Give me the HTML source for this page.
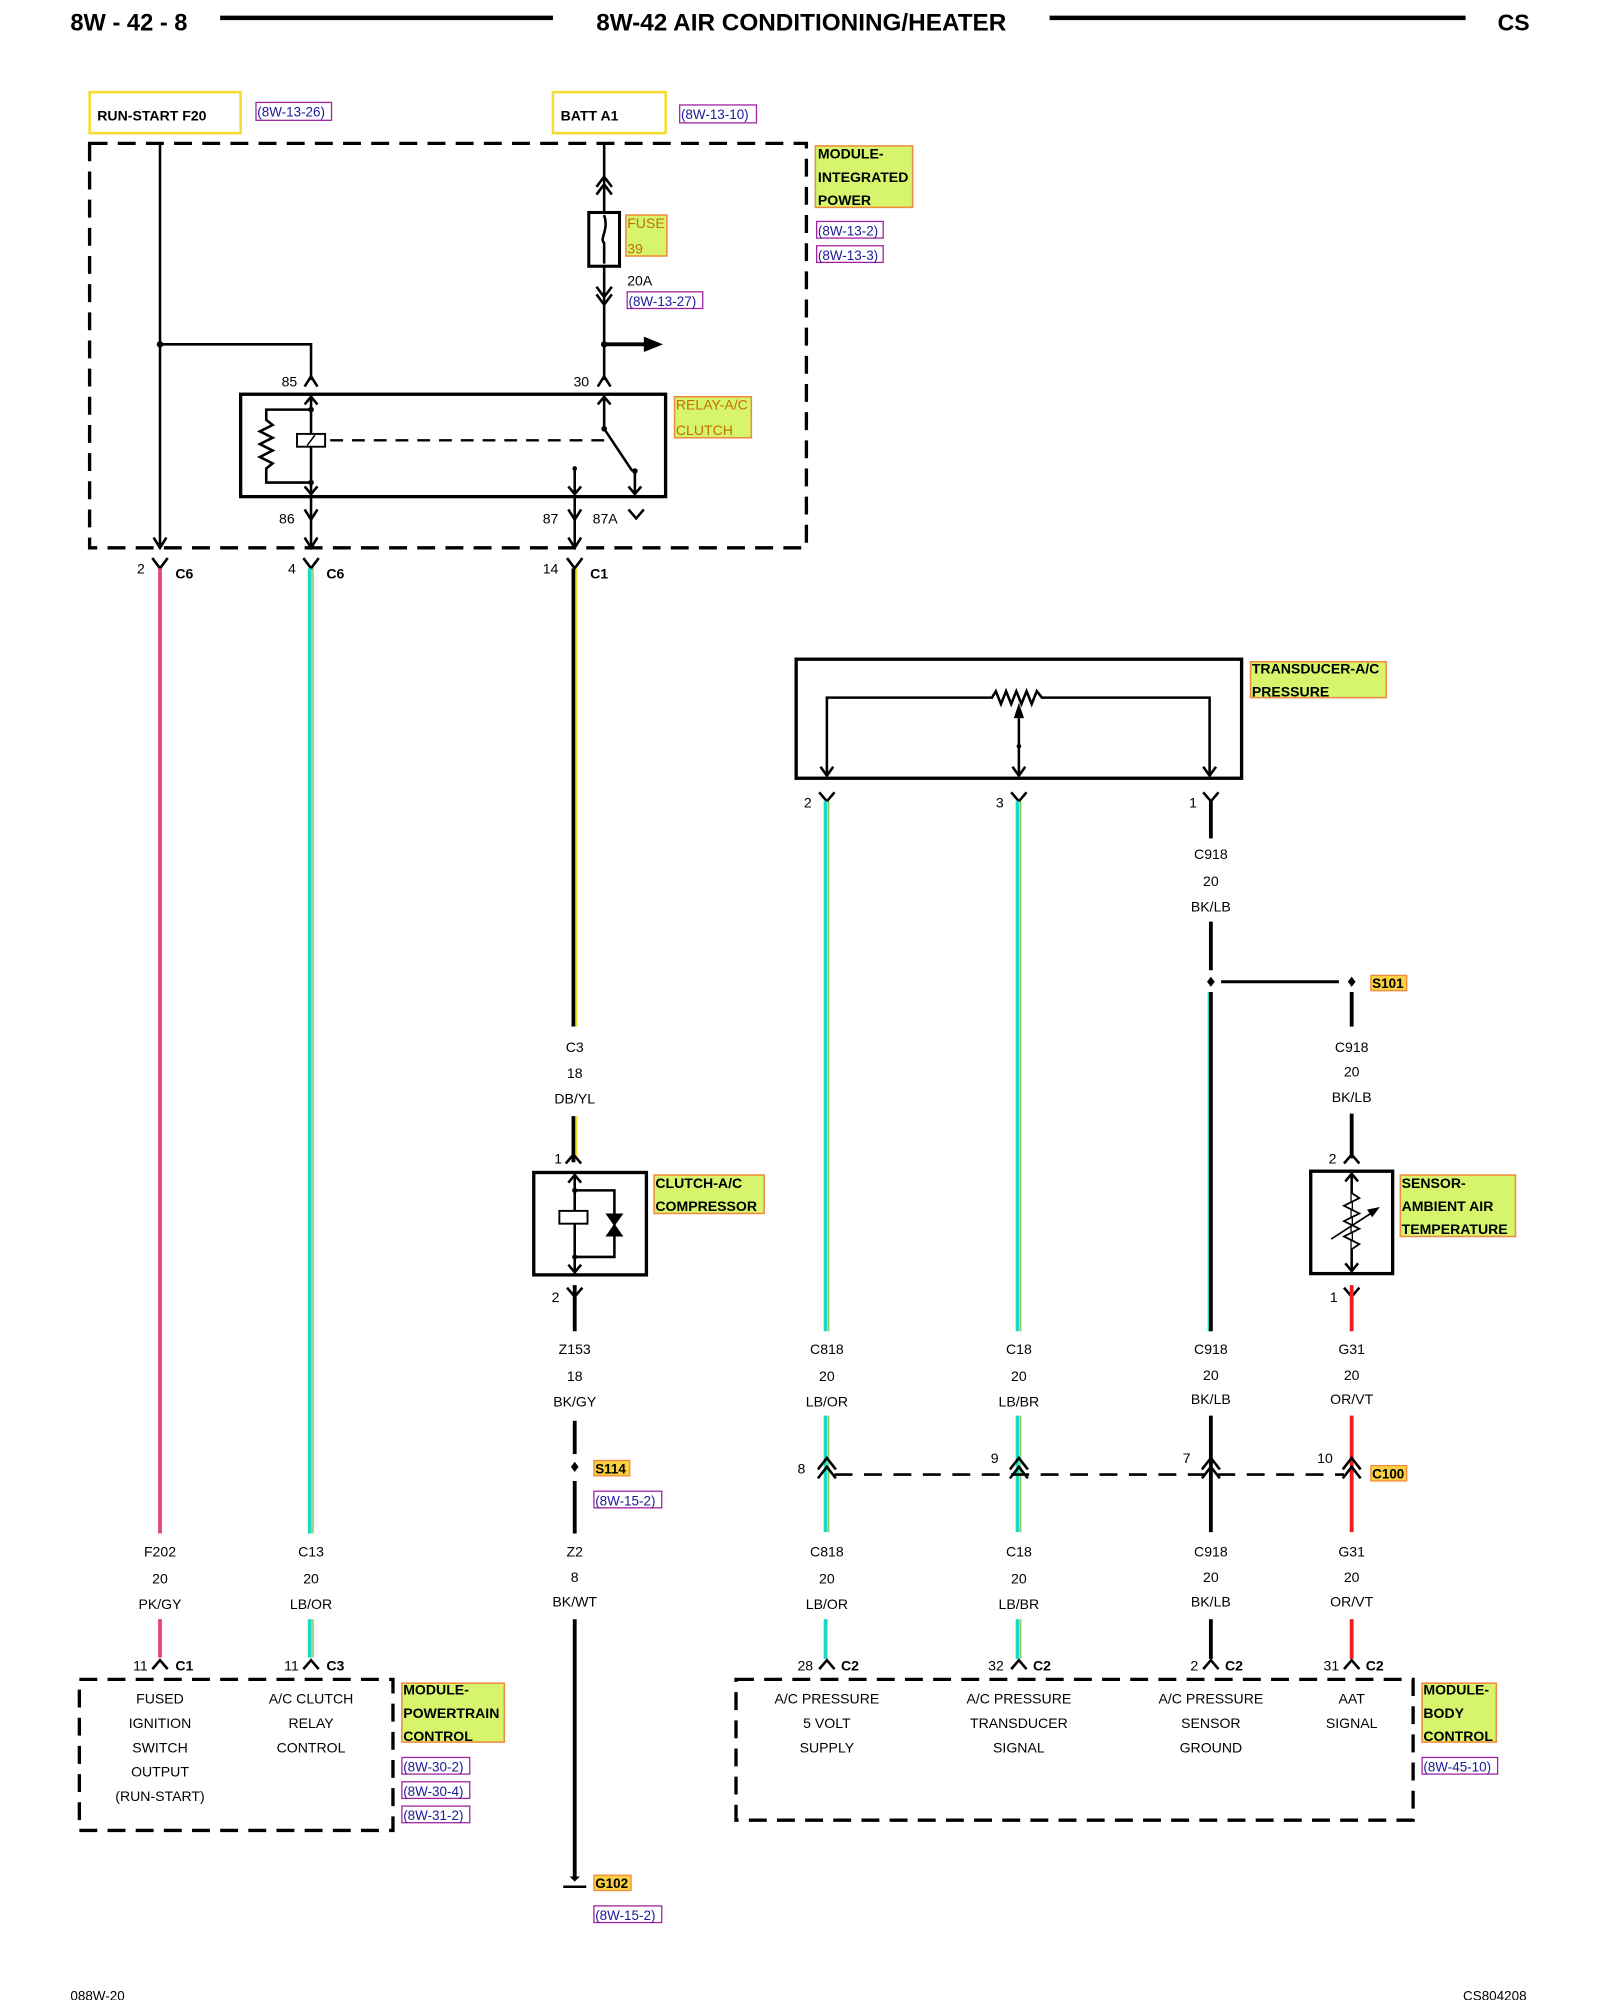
<!DOCTYPE html>
<html><head><meta charset="utf-8"><style>
html,body{margin:0;padding:0;background:#fff}
svg{display:block}
text{font-family:"Liberation Sans",Arial,sans-serif;fill:#000}
.b{font-weight:bold}
.s{font-size:11px}
.r{font-size:10.5px;fill:#1a1a9a}
.g{fill:#d6f56c;stroke:#f08a3c;stroke-width:1.2}
.rb{fill:none;stroke:#a020a0;stroke-width:1}
.w{stroke:#000;stroke-width:2;fill:none}
.d{stroke:#000;stroke-width:2.6;fill:none;stroke-dasharray:14,8}
</style></head><body>
<svg width="1600" height="2000" viewBox="0 0 1250 1562.5" xmlns="http://www.w3.org/2000/svg">
<!-- header -->
<text x="55" y="24" class="b" font-size="18.5">8W - 42 - 8</text>
<line x1="172" y1="14" x2="432" y2="14" stroke="#000" stroke-width="3.5"/>
<text x="626" y="24" class="b" font-size="19" text-anchor="middle">8W-42 AIR CONDITIONING/HEATER</text>
<line x1="820" y1="14" x2="1145" y2="14" stroke="#000" stroke-width="3.5"/>
<text x="1170" y="24" class="b" font-size="18">CS</text>

<!-- top sources -->
<rect x="70" y="72" width="118" height="32" fill="none" stroke="#f5dc30" stroke-width="2"/>
<text x="76" y="94" class="b" font-size="11">RUN-START F20</text>
<rect x="200" y="80" width="59" height="14" class="rb"/><text x="201" y="91" class="r">(8W-13-26)</text>
<rect x="432" y="72" width="88" height="32" fill="none" stroke="#f5dc30" stroke-width="2"/>
<text x="438" y="94" class="b" font-size="11">BATT A1</text>
<rect x="531" y="82" width="60" height="14" class="rb"/><text x="532" y="93" class="r">(8W-13-10)</text>

<!-- IPM dashed box -->
<rect x="70" y="112" width="560" height="316" class="d"/>
<rect x="637" y="114" width="76" height="48" class="g"/>
<text x="639" y="124" class="b s">MODULE-</text><text x="639" y="142" class="b s">INTEGRATED</text><text x="639" y="160" class="b s">POWER</text>
<rect x="638" y="173" width="52" height="13" class="rb"/><text x="639" y="184" class="r">(8W-13-2)</text>
<rect x="638" y="192" width="52" height="13" class="rb"/><text x="639" y="203" class="r">(8W-13-3)</text>

<!-- left feed -->
<line x1="125" y1="112" x2="125" y2="428" class="w"/>
<path d="M120 420 L125 428 L130 420" class="w"/>
<circle cx="125" cy="269" r="2.5"/>
<path d="M125 269 H243 V297" class="w"/>
<path d="M238 302 L243 294 L248 302" class="w"/>
<text x="220" y="302" class="s">85</text>

<!-- fuse branch -->
<line x1="472" y1="112" x2="472" y2="166" class="w"/>
<path d="M466 146 L472 138 L478 146 M466 152 L472 144 L478 152" class="w" stroke-width="1.5"/>
<rect x="460" y="166" width="24" height="42" fill="none" stroke="#000" stroke-width="2.4"/>
<path d="M472 168 C476 180 468 186 472 190 L472 206" class="w" stroke-width="1.4"/>
<rect x="489" y="168" width="32" height="32" class="g"/>
<text x="490" y="178" class="s" style="fill:#c07000">FUSE</text><text x="490" y="198" class="s" style="fill:#c07000">39</text>
<text x="490" y="223" class="s">20A</text>
<rect x="490" y="228" width="59" height="13" class="rb"/><text x="491" y="239" class="r">(8W-13-27)</text>
<line x1="472" y1="208" x2="472" y2="297" class="w"/>
<path d="M466 224 L472 232 L478 224 M466 230 L472 238 L478 230" class="w" stroke-width="1.5"/>
<circle cx="472" cy="269" r="2.5"/>
<line x1="472" y1="269" x2="504" y2="269" stroke="#000" stroke-width="3"/>
<path d="M503 263 L518 269 L503 275 Z"/>
<path d="M467 302 L472 294 L477 302" class="w"/>
<text x="448" y="302" class="s">30</text>

<!-- relay -->
<rect x="188" y="308" width="332" height="80" fill="none" stroke="#000" stroke-width="2.6"/>
<rect x="527" y="310" width="60" height="32" class="g"/>
<text x="528" y="320" class="s" style="fill:#c07000">RELAY-A/C</text><text x="528" y="340" class="s" style="fill:#c07000">CLUTCH</text>
<line x1="243" y1="308" x2="243" y2="388" class="w" stroke-width="1.5"/>
<path d="M238 316 L243 310 L248 316 M238 380 L243 386 L248 380" class="w" stroke-width="1.3"/>
<circle cx="243" cy="320" r="2.2"/><circle cx="243" cy="377" r="2.2"/>
<path d="M243 320 H208 V328 L213 332 L203 337 L213 342 L203 347 L213 352 L203 357 L213 362 L208 366 V377 H243" class="w" stroke-width="1.3"/>
<rect x="232" y="339" width="22" height="10" fill="#fff" stroke="#000" stroke-width="1.5"/>
<line x1="240" y1="348" x2="246" y2="340" stroke="#000" stroke-width="1.2"/>
<line x1="258" y1="344" x2="478" y2="344" stroke="#000" stroke-width="1.8" stroke-dasharray="10,7"/>
<line x1="472" y1="310" x2="472" y2="335" class="w" stroke-width="1.5"/>
<path d="M467 316 L472 310 L477 316" class="w" stroke-width="1.3"/>
<circle cx="472" cy="335" r="2.2"/>
<line x1="472" y1="335" x2="494" y2="368" class="w" stroke-width="1.5"/>
<circle cx="496" cy="368" r="2.2"/>
<line x1="496" y1="368" x2="496" y2="386" class="w" stroke-width="1.5"/>
<path d="M491 380 L496 386 L501 380" class="w" stroke-width="1.3"/>
<line x1="449" y1="366" x2="449" y2="386" class="w" stroke-width="1.5"/>
<circle cx="449" cy="366" r="1.8"/>
<path d="M444 380 L449 386 L454 380" class="w" stroke-width="1.3"/>
<!-- below relay -->
<line x1="243" y1="388" x2="243" y2="428" class="w"/>
<path d="M238 398 L243 406 L248 398 M238 420 L243 428 L248 420" class="w"/>
<text x="218" y="409" class="s">86</text>
<line x1="449" y1="388" x2="449" y2="428" class="w"/>
<path d="M444 398 L449 406 L454 398 M444 420 L449 428 L454 420" class="w"/>
<text x="424" y="409" class="s">87</text>
<text x="463" y="409" class="s">87A</text>
<path d="M491 398 L497 405 L503 398" class="w"/>

<!-- connectors below IPM -->
<path d="M119 436 L125 444 L131 436" class="w"/><text x="107" y="448" class="s">2</text><text x="137" y="452" class="b s">C6</text>
<path d="M237 436 L243 444 L249 436" class="w"/><text x="225" y="448" class="s">4</text><text x="255" y="452" class="b s">C6</text>
<path d="M443 436 L449 444 L455 436" class="w"/><text x="424" y="448" class="s">14</text><text x="461" y="452" class="b s">C1</text>

<!-- left wires -->
<line x1="125" y1="444" x2="125" y2="1198" stroke="#e84a76" stroke-width="3"/>
<line x1="242" y1="444" x2="242" y2="1198" stroke="#18d8c6" stroke-width="3"/>
<line x1="244.5" y1="444" x2="244.5" y2="1198" stroke="#70c040" stroke-width="1"/>
<line x1="448" y1="444" x2="448" y2="802" stroke="#000" stroke-width="3"/>
<line x1="450.5" y1="444" x2="450.5" y2="802" stroke="#f0e020" stroke-width="1.2"/>

<g class="s" text-anchor="middle">
<text x="125" y="1216">F202</text><text x="125" y="1237">20</text><text x="125" y="1257">PK/GY</text>
<text x="243" y="1216">C13</text><text x="243" y="1237">20</text><text x="243" y="1257">LB/OR</text>
<text x="449" y="822">C3</text><text x="449" y="842">18</text><text x="449" y="862">DB/YL</text>
<text x="449" y="1058">Z153</text><text x="449" y="1079">18</text><text x="449" y="1099">BK/GY</text>
<text x="449" y="1216">Z2</text><text x="449" y="1236">8</text><text x="449" y="1255">BK/WT</text>
</g>
<line x1="125" y1="1265" x2="125" y2="1295" stroke="#e84a76" stroke-width="3"/>
<line x1="242" y1="1265" x2="242" y2="1295" stroke="#18d8c6" stroke-width="3"/>
<line x1="244.5" y1="1265" x2="244.5" y2="1295" stroke="#70c040" stroke-width="1"/>
<path d="M119 1304 L125 1297 L131 1304" class="w"/><text x="104" y="1305" class="s">11</text><text x="137" y="1305" class="b s">C1</text>
<path d="M237 1304 L243 1297 L249 1304" class="w"/><text x="222" y="1305" class="s">11</text><text x="255" y="1305" class="b s">C3</text>

<!-- PCM -->
<rect x="62" y="1312" width="245" height="118" class="d"/>
<g class="s" text-anchor="middle">
<text x="125" y="1331">FUSED</text><text x="125" y="1350">IGNITION</text><text x="125" y="1369">SWITCH</text><text x="125" y="1388">OUTPUT</text><text x="125" y="1407">(RUN-START)</text>
<text x="243" y="1331">A/C CLUTCH</text><text x="243" y="1350">RELAY</text><text x="243" y="1369">CONTROL</text>
</g>
<rect x="314" y="1315" width="80" height="46" class="g"/>
<text x="315" y="1324" class="b s">MODULE-</text><text x="315" y="1342" class="b s">POWERTRAIN</text><text x="315" y="1360" class="b s">CONTROL</text>
<rect x="314" y="1373" width="53" height="13" class="rb"/><text x="315" y="1384" class="r">(8W-30-2)</text>
<rect x="314" y="1392" width="53" height="13" class="rb"/><text x="315" y="1403" class="r">(8W-30-4)</text>
<rect x="314" y="1411" width="53" height="13" class="rb"/><text x="315" y="1422" class="r">(8W-31-2)</text>

<!-- clutch -->
<line x1="448" y1="872" x2="448" y2="908" stroke="#000" stroke-width="3"/>
<line x1="450.5" y1="872" x2="450.5" y2="905" stroke="#f0e020" stroke-width="1.2"/>
<path d="M442 909 L448 902 L454 909" class="w"/><text x="433" y="909" class="s">1</text>
<rect x="417" y="916" width="88" height="80" fill="none" stroke="#000" stroke-width="2.6"/>
<line x1="449" y1="918" x2="449" y2="994" class="w" stroke-width="1.5"/>
<path d="M444 924 L449 918 L454 924 M444 988 L449 994 L454 988" class="w" stroke-width="1.3"/>
<circle cx="449" cy="930" r="2"/><circle cx="449" cy="982" r="2"/>
<path d="M449 930 H480 V982 H449" class="w" stroke-width="1.3"/>
<rect x="437" y="946" width="22" height="10" fill="#fff" stroke="#000" stroke-width="1.5"/>
<path d="M473 948 L487 948 L480 958 Z M473 966 L487 966 L480 956 Z"/>
<rect x="511" y="918" width="86" height="30" class="g"/>
<text x="512" y="928" class="b s">CLUTCH-A/C</text><text x="512" y="946" class="b s">COMPRESSOR</text>
<path d="M443 1006 L449 1013 L455 1006" class="w"/><text x="431" y="1017" class="s">2</text>
<line x1="449" y1="1004" x2="449" y2="1040" stroke="#000" stroke-width="3"/>
<line x1="449" y1="1110" x2="449" y2="1136" stroke="#000" stroke-width="3"/>
<path d="M449 1142 L452 1146 L449 1150 L446 1146 Z"/>
<line x1="449" y1="1157" x2="449" y2="1198" stroke="#000" stroke-width="3"/>
<rect x="464" y="1141" width="28" height="12" fill="#f8d040" stroke="#f08a3c"/>
<text x="465" y="1151" class="b" font-size="10.5">S114</text>
<rect x="464" y="1165" width="53" height="13" class="rb"/><text x="465" y="1176" class="r">(8W-15-2)</text>
<line x1="449" y1="1265" x2="449" y2="1466" stroke="#000" stroke-width="3"/>
<path d="M445 1466 L449 1470 L453 1466 Z"/>
<line x1="440" y1="1474" x2="458" y2="1474" stroke="#000" stroke-width="2"/>
<rect x="464" y="1465" width="29" height="12" fill="#f8d040" stroke="#f08a3c"/>
<text x="465" y="1475" class="b" font-size="10.5">G102</text>
<rect x="464" y="1489" width="53" height="13" class="rb"/><text x="465" y="1500" class="r">(8W-15-2)</text>

<!-- transducer -->
<rect x="622" y="515" width="348" height="93" fill="none" stroke="#000" stroke-width="2.6"/>
<rect x="977" y="517" width="106" height="28" class="g"/>
<text x="978" y="526" class="b s">TRANSDUCER-A/C</text><text x="978" y="544" class="b s">PRESSURE</text>
<path d="M646 606 V545 H775 L778 540 L782 550 L786 540 L790 550 L794 540 L798 550 L802 540 L806 550 L810 540 L814 545 H945 V606" class="w" stroke-width="1.3"/>
<path d="M641 599 L646 606 L651 599 M940 599 L945 606 L950 599 M791 599 L796 606 L801 599" class="w" stroke-width="1.3"/>
<line x1="796" y1="556" x2="796" y2="606" class="w" stroke-width="1.3"/>
<path d="M792 561 L796 549 L800 561 Z"/>
<circle cx="796" cy="583" r="1.8"/>
<path d="M640 619 L646 626 L652 619 M790 619 L796 626 L802 619 M940 619 L946 626 L952 619" class="w"/>
<text x="628" y="631" class="s">2</text><text x="778" y="631" class="s">3</text><text x="929" y="631" class="s">1</text>

<line x1="645" y1="626" x2="645" y2="1040" stroke="#18d8c6" stroke-width="3"/>
<line x1="647.5" y1="626" x2="647.5" y2="1040" stroke="#70c040" stroke-width="0.9"/>
<line x1="795" y1="626" x2="795" y2="1040" stroke="#18d8c6" stroke-width="3"/>
<line x1="797.5" y1="626" x2="797.5" y2="1040" stroke="#70c040" stroke-width="0.9"/>
<line x1="946" y1="626" x2="946" y2="655" stroke="#000" stroke-width="3"/>
<line x1="946" y1="720" x2="946" y2="758" stroke="#000" stroke-width="3"/>
<line x1="946" y1="775" x2="946" y2="1040" stroke="#000" stroke-width="3"/>
<line x1="944" y1="775" x2="944" y2="1040" stroke="#18d8c6" stroke-width="1"/>
<path d="M946 763 L949 767 L946 771 L943 767 Z"/>
<line x1="954" y1="767" x2="1046" y2="767" stroke="#000" stroke-width="2.4"/>
<path d="M1056 763 L1059 767 L1056 771 L1053 767 Z"/>
<rect x="1071" y="762" width="28" height="12" fill="#f8d040" stroke="#f08a3c"/>
<text x="1072" y="772" class="b" font-size="10.5">S101</text>
<line x1="1056" y1="775" x2="1056" y2="802" stroke="#000" stroke-width="3"/>
<line x1="1056" y1="870" x2="1056" y2="905" stroke="#000" stroke-width="3"/>
<path d="M1050 909 L1056 902 L1062 909" class="w"/><text x="1038" y="909" class="s">2</text>
<rect x="1024" y="915" width="64" height="80" fill="none" stroke="#000" stroke-width="2.6"/>
<line x1="1056" y1="917" x2="1056" y2="993" class="w" stroke-width="1.3"/>
<path d="M1051 923 L1056 917 L1061 923 M1051 987 L1056 993 L1061 987" class="w" stroke-width="1.3"/>
<path d="M1056 932 L1062 936 L1050 942 L1062 948 L1050 954 L1062 960 L1050 966 L1062 972 L1056 976" fill="#fff" stroke="#000" stroke-width="1.4"/>
<line x1="1040" y1="968" x2="1074" y2="946" stroke="#000" stroke-width="1.3"/>
<path d="M1078 943 L1068 945 L1072 951 Z"/>
<rect x="1094" y="918" width="90" height="48" class="g"/>
<text x="1095" y="928" class="b s">SENSOR-</text><text x="1095" y="946" class="b s">AMBIENT AIR</text><text x="1095" y="964" class="b s">TEMPERATURE</text>
<path d="M1050 1006 L1056 1013 L1062 1006" class="w"/><text x="1039" y="1017" class="s">1</text>
<line x1="1056" y1="1004" x2="1056" y2="1040" stroke="#e82020" stroke-width="3"/>

<g class="s" text-anchor="middle">
<text x="946" y="671">C918</text><text x="946" y="692">20</text><text x="946" y="712">BK/LB</text>
<text x="1056" y="822">C918</text><text x="1056" y="841">20</text><text x="1056" y="861">BK/LB</text>
<text x="646" y="1058">C818</text><text x="646" y="1079">20</text><text x="646" y="1099">LB/OR</text>
<text x="796" y="1058">C18</text><text x="796" y="1079">20</text><text x="796" y="1099">LB/BR</text>
<text x="946" y="1058">C918</text><text x="946" y="1078">20</text><text x="946" y="1097">BK/LB</text>
<text x="1056" y="1058">G31</text><text x="1056" y="1078">20</text><text x="1056" y="1097">OR/VT</text>
<text x="646" y="1216">C818</text><text x="646" y="1237">20</text><text x="646" y="1257">LB/OR</text>
<text x="796" y="1216">C18</text><text x="796" y="1237">20</text><text x="796" y="1257">LB/BR</text>
<text x="946" y="1216">C918</text><text x="946" y="1236">20</text><text x="946" y="1255">BK/LB</text>
<text x="1056" y="1216">G31</text><text x="1056" y="1236">20</text><text x="1056" y="1255">OR/VT</text>
</g>

<!-- C100 section -->
<line x1="645" y1="1106" x2="645" y2="1197" stroke="#18d8c6" stroke-width="3"/>
<line x1="647.5" y1="1106" x2="647.5" y2="1197" stroke="#70c040" stroke-width="0.9"/>
<line x1="795" y1="1106" x2="795" y2="1197" stroke="#18d8c6" stroke-width="3"/>
<line x1="797.5" y1="1106" x2="797.5" y2="1197" stroke="#70c040" stroke-width="0.9"/>
<line x1="946" y1="1106" x2="946" y2="1197" stroke="#000" stroke-width="3"/>
<line x1="1056" y1="1106" x2="1056" y2="1197" stroke="#e82020" stroke-width="3"/>
<line x1="652" y1="1152" x2="1050" y2="1152" stroke="#000" stroke-width="2" stroke-dasharray="14,9"/>
<g class="w">
<path d="M639 1148 L646 1139 L653 1148 M639 1155 L646 1146 L653 1155"/>
<path d="M789 1148 L796 1139 L803 1148 M789 1155 L796 1146 L803 1155"/>
<path d="M939 1148 L946 1139 L953 1148 M939 1155 L946 1146 L953 1155"/>
<path d="M1049 1148 L1056 1139 L1063 1148 M1049 1155 L1056 1146 L1063 1155"/>
</g>
<text x="623" y="1151" class="s">8</text><text x="774" y="1143" class="s">9</text><text x="924" y="1143" class="s">7</text><text x="1029" y="1143" class="s">10</text>
<rect x="1071" y="1145" width="28" height="12" fill="#f8d040" stroke="#f08a3c"/>
<text x="1072" y="1155" class="b" font-size="10.5">C100</text>

<line x1="645" y1="1265" x2="645" y2="1296" stroke="#18d8c6" stroke-width="3"/>
<line x1="795" y1="1265" x2="795" y2="1296" stroke="#18d8c6" stroke-width="3"/>
<line x1="797.5" y1="1265" x2="797.5" y2="1296" stroke="#70c040" stroke-width="0.9"/>
<line x1="946" y1="1265" x2="946" y2="1296" stroke="#000" stroke-width="3"/>
<line x1="1056" y1="1265" x2="1056" y2="1296" stroke="#e82020" stroke-width="3"/>
<g class="w">
<path d="M640 1304 L646 1297 L652 1304"/><path d="M790 1304 L796 1297 L802 1304"/>
<path d="M940 1304 L946 1297 L952 1304"/><path d="M1050 1304 L1056 1297 L1062 1304"/>
</g>
<text x="623" y="1305" class="s">28</text><text x="657" y="1305" class="b s">C2</text>
<text x="772" y="1305" class="s">32</text><text x="807" y="1305" class="b s">C2</text>
<text x="930" y="1305" class="s">2</text><text x="957" y="1305" class="b s">C2</text>
<text x="1034" y="1305" class="s">31</text><text x="1067" y="1305" class="b s">C2</text>

<!-- BCM -->
<rect x="575" y="1312" width="529" height="110" class="d"/>
<g class="s" text-anchor="middle">
<text x="646" y="1331">A/C PRESSURE</text><text x="646" y="1350">5 VOLT</text><text x="646" y="1369">SUPPLY</text>
<text x="796" y="1331">A/C PRESSURE</text><text x="796" y="1350">TRANSDUCER</text><text x="796" y="1369">SIGNAL</text>
<text x="946" y="1331">A/C PRESSURE</text><text x="946" y="1350">SENSOR</text><text x="946" y="1369">GROUND</text>
<text x="1056" y="1331">AAT</text><text x="1056" y="1350">SIGNAL</text>
</g>
<rect x="1111" y="1315" width="58" height="46" class="g"/>
<text x="1112" y="1324" class="b s">MODULE-</text><text x="1112" y="1342" class="b s">BODY</text><text x="1112" y="1360" class="b s">CONTROL</text>
<rect x="1111" y="1373" width="59" height="13" class="rb"/><text x="1112" y="1384" class="r">(8W-45-10)</text>

<!-- footer -->
<text x="55" y="1563" font-size="10.5">088W-20</text>
<text x="1143" y="1563" font-size="10.5">CS804208</text>
</svg>
</body></html>
